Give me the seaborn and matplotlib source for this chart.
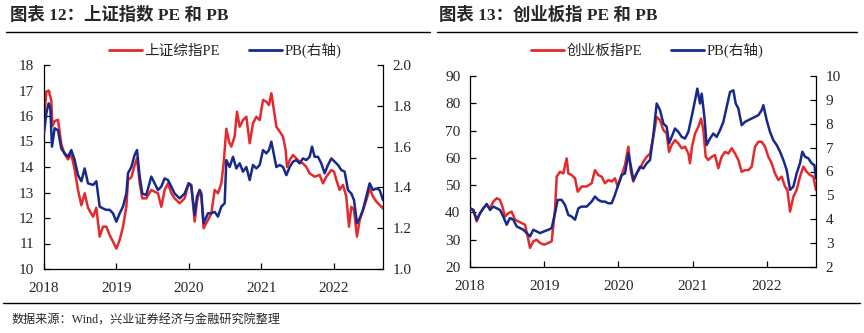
import matplotlib
matplotlib.use("Agg")
import matplotlib.pyplot as plt
import seaborn as sns
import numpy as np
from matplotlib.lines import Line2D

# ---------------- data (decimal years) ----------------
sh_pe_t = [2018.000, 2018.032, 2018.064, 2018.101, 2018.115, 2018.147, 2018.193, 2018.239, 2018.285,
           2018.331, 2018.377, 2018.423, 2018.469, 2018.515, 2018.561, 2018.607, 2018.676, 2018.722,
           2018.768, 2018.814, 2018.860, 2018.906, 2018.975, 2018.998, 2019.044, 2019.090, 2019.136,
           2019.159, 2019.205, 2019.251, 2019.283, 2019.320, 2019.356, 2019.411, 2019.480, 2019.526,
           2019.572, 2019.618, 2019.664, 2019.710, 2019.756, 2019.802, 2019.871, 2019.940, 2019.995,
           2020.032, 2020.078, 2020.110, 2020.147, 2020.170, 2020.202, 2020.262, 2020.308, 2020.354,
           2020.400, 2020.446, 2020.478, 2020.515, 2020.552, 2020.584, 2020.630, 2020.662, 2020.699,
           2020.745, 2020.791, 2020.837, 2020.883, 2020.929, 2020.975, 2021.021, 2021.067, 2021.103,
           2021.136, 2021.168, 2021.205, 2021.251, 2021.297, 2021.333, 2021.352, 2021.389, 2021.434,
           2021.480, 2021.526, 2021.572, 2021.618, 2021.664, 2021.733, 2021.802, 2021.848, 2021.894,
           2021.963, 2022.000, 2022.032, 2022.078, 2022.124, 2022.170, 2022.207, 2022.239, 2022.276,
           2022.317, 2022.354, 2022.400, 2022.446, 2022.492, 2022.538, 2022.584, 2022.630, 2022.676]
sh_pe = [15.84, 16.95, 17.00, 16.60, 15.60, 15.80, 15.85, 14.90, 14.50,
         14.30, 14.50, 13.90, 13.10, 12.50, 12.97, 12.40, 12.05, 12.40,
         11.27, 11.66, 11.66, 11.33, 10.94, 10.80, 11.14, 11.66, 12.45,
         13.50, 13.60, 14.08, 14.34, 13.36, 12.77, 12.77, 13.10, 13.03,
         12.97, 12.44, 13.10, 13.36, 12.97, 12.77, 12.58, 12.77, 13.36,
         13.30, 11.86, 12.64, 13.10, 12.84, 11.60, 11.92, 12.18, 13.10,
         12.97, 13.36, 14.14, 15.50, 14.99, 14.80, 15.20, 16.17, 15.58,
         15.84, 15.97, 14.93, 15.71, 15.97, 15.84, 16.63, 16.56, 16.43,
         16.89, 16.30, 15.58, 15.39, 15.19, 14.67, 14.00, 14.27, 14.47,
         14.34, 14.20, 14.14, 14.00, 13.75, 13.62, 13.69, 13.36, 13.62,
         13.88, 13.82, 13.50, 13.10, 13.30, 12.84, 11.66, 12.44, 12.31,
         11.27, 11.92, 12.31, 12.70, 13.16, 12.84, 12.64, 12.51, 12.38]

sh_pb_t = [2018.000, 2018.032, 2018.064, 2018.087, 2018.110, 2018.147, 2018.193, 2018.239, 2018.285,
           2018.331, 2018.377, 2018.423, 2018.469, 2018.515, 2018.561, 2018.607, 2018.676, 2018.722,
           2018.768, 2018.814, 2018.860, 2018.906, 2018.952, 2018.998, 2019.044, 2019.090, 2019.136,
           2019.159, 2019.205, 2019.251, 2019.283, 2019.320, 2019.356, 2019.411, 2019.480, 2019.526,
           2019.572, 2019.618, 2019.664, 2019.710, 2019.756, 2019.802, 2019.871, 2019.940, 2019.995,
           2020.032, 2020.078, 2020.110, 2020.147, 2020.170, 2020.202, 2020.262, 2020.308, 2020.354,
           2020.400, 2020.446, 2020.492, 2020.515, 2020.561, 2020.607, 2020.653, 2020.699, 2020.745,
           2020.791, 2020.837, 2020.883, 2020.929, 2020.975, 2021.021, 2021.067, 2021.103, 2021.136,
           2021.168, 2021.205, 2021.251, 2021.297, 2021.343, 2021.389, 2021.434, 2021.480, 2021.526,
           2021.572, 2021.618, 2021.664, 2021.697, 2021.733, 2021.779, 2021.825, 2021.871, 2021.917,
           2021.963, 2022.009, 2022.055, 2022.101, 2022.147, 2022.193, 2022.239, 2022.276, 2022.317,
           2022.354, 2022.400, 2022.446, 2022.492, 2022.538, 2022.584, 2022.630, 2022.676]
sh_pb = [1.665, 1.763, 1.812, 1.790, 1.600, 1.690, 1.680, 1.590, 1.567,
         1.550, 1.583, 1.534, 1.460, 1.430, 1.493, 1.420, 1.412, 1.430,
         1.306, 1.297, 1.290, 1.290, 1.273, 1.232, 1.273, 1.306, 1.370,
         1.470, 1.500, 1.560, 1.583, 1.453, 1.370, 1.363, 1.453, 1.420,
         1.387, 1.404, 1.444, 1.436, 1.404, 1.370, 1.346, 1.370, 1.420,
         1.404, 1.265, 1.355, 1.387, 1.370, 1.224, 1.273, 1.273, 1.280,
         1.257, 1.306, 1.322, 1.534, 1.500, 1.550, 1.493, 1.518, 1.477,
         1.500, 1.436, 1.510, 1.493, 1.510, 1.583, 1.567, 1.583, 1.624,
         1.567, 1.500, 1.510, 1.500, 1.460, 1.500, 1.526, 1.534, 1.518,
         1.542, 1.534, 1.550, 1.600, 1.550, 1.550, 1.518, 1.469, 1.510,
         1.542, 1.526, 1.510, 1.485, 1.477, 1.387, 1.370, 1.338, 1.224,
         1.248, 1.290, 1.355, 1.420, 1.387, 1.395, 1.387, 1.338]

cy_pe_t = [2018.000, 2018.045, 2018.090, 2018.135, 2018.180, 2018.225, 2018.270, 2018.315, 2018.360,
           2018.404, 2018.436, 2018.472, 2018.517, 2018.562, 2018.607, 2018.652, 2018.697, 2018.742,
           2018.787, 2018.809, 2018.854, 2018.899, 2018.944, 2018.998, 2019.056, 2019.101, 2019.146,
           2019.169, 2019.213, 2019.258, 2019.303, 2019.326, 2019.371, 2019.416, 2019.452, 2019.506,
           2019.573, 2019.640, 2019.685, 2019.730, 2019.775, 2019.820, 2019.865, 2019.910, 2019.955,
           2019.991, 2020.045, 2020.090, 2020.135, 2020.166, 2020.202, 2020.247, 2020.292, 2020.337,
           2020.382, 2020.427, 2020.472, 2020.517, 2020.562, 2020.607, 2020.652, 2020.683, 2020.719,
           2020.764, 2020.809, 2020.854, 2020.899, 2020.944, 2020.966, 2020.993, 2021.034, 2021.079,
           2021.115, 2021.146, 2021.178, 2021.213, 2021.258, 2021.303, 2021.348, 2021.393, 2021.438,
           2021.483, 2021.528, 2021.573, 2021.618, 2021.663, 2021.708, 2021.753, 2021.798, 2021.843,
           2021.888, 2021.933, 2021.978, 2022.022, 2022.067, 2022.112, 2022.157, 2022.202, 2022.247,
           2022.279, 2022.315, 2022.360, 2022.404, 2022.449, 2022.494, 2022.539, 2022.584, 2022.629,
           2022.665]
cy_pe = [41.5, 40.9, 36.7, 39.7, 41.5, 42.8, 41.5, 44.0, 45.2,
         44.6, 42.2, 38.5, 39.7, 40.3, 37.3, 36.7, 36.1, 35.5,
         30.0, 27.0, 29.4, 30.0, 28.8, 28.2, 28.8, 29.4, 40.9,
         53.1, 54.9, 54.3, 59.8, 54.3, 53.7, 52.5, 47.6, 49.5,
         49.5, 50.7, 55.5, 53.7, 53.1, 50.7, 51.9, 51.3, 52.5,
         49.5, 53.7, 57.4, 64.1, 55.5, 51.3, 54.3, 56.2, 58.6,
         60.4, 61.6, 67.7, 75.0, 73.8, 70.2, 68.9, 62.2, 64.7,
         66.5, 65.3, 63.5, 64.1, 61.6, 58.0, 64.1, 68.9, 71.4,
         74.4, 70.2, 60.4, 59.2, 60.4, 61.0, 56.2, 60.4, 62.2,
         61.6, 63.5, 61.6, 59.2, 54.9, 55.5, 55.5, 56.8, 64.1,
         65.9, 65.9, 64.1, 60.4, 58.0, 54.3, 51.9, 53.1, 49.5,
         48.2, 40.3, 45.8, 48.2, 53.1, 56.8, 54.9, 53.7, 53.1,
         48.2]

cy_pb_t = [2018.000, 2018.045, 2018.090, 2018.135, 2018.180, 2018.225, 2018.270, 2018.315, 2018.360,
           2018.404, 2018.449, 2018.494, 2018.539, 2018.584, 2018.629, 2018.674, 2018.719, 2018.764,
           2018.809, 2018.854, 2018.899, 2018.944, 2018.998, 2019.056, 2019.101, 2019.146, 2019.182,
           2019.236, 2019.281, 2019.326, 2019.371, 2019.416, 2019.461, 2019.506, 2019.573, 2019.640,
           2019.685, 2019.730, 2019.775, 2019.820, 2019.865, 2019.910, 2019.946, 2019.991, 2020.045,
           2020.090, 2020.135, 2020.166, 2020.202, 2020.247, 2020.292, 2020.337, 2020.382, 2020.427,
           2020.472, 2020.517, 2020.562, 2020.607, 2020.652, 2020.683, 2020.719, 2020.764, 2020.809,
           2020.854, 2020.899, 2020.944, 2020.993, 2021.034, 2021.065, 2021.101, 2021.124, 2021.160,
           2021.191, 2021.236, 2021.281, 2021.326, 2021.371, 2021.416, 2021.461, 2021.506, 2021.551,
           2021.582, 2021.618, 2021.663, 2021.708, 2021.753, 2021.798, 2021.843, 2021.888, 2021.933,
           2021.955, 2022.000, 2022.045, 2022.090, 2022.135, 2022.180, 2022.225, 2022.270, 2022.315,
           2022.360, 2022.404, 2022.449, 2022.481, 2022.517, 2022.562, 2022.607, 2022.643, 2022.665]
cy_pb = [4.46, 4.39, 3.98, 4.25, 4.46, 4.64, 4.39, 4.53, 4.46,
         4.39, 4.11, 3.77, 4.05, 3.98, 3.70, 3.63, 3.56, 3.42,
         3.28, 3.56, 3.49, 3.42, 3.49, 3.56, 3.63, 4.25, 4.81,
         4.81, 4.60, 4.18, 4.11, 3.98, 4.46, 4.53, 4.53, 4.74,
         4.95, 4.81, 4.74, 4.74, 4.67, 4.67, 4.95, 5.37, 5.85,
         5.92, 6.76, 6.27, 5.64, 5.92, 6.20, 6.13, 6.34, 6.48,
         7.52, 8.85, 8.57, 8.01, 7.87, 7.18, 7.45, 7.80, 7.66,
         7.45, 7.38, 7.66, 8.36, 8.98, 9.47, 8.85, 9.26, 8.29,
         7.11, 7.38, 7.59, 7.45, 7.73, 8.08, 8.71, 9.33, 9.40,
         8.85, 8.64, 7.94, 8.08, 8.15, 8.22, 8.29, 8.36, 8.57,
         8.78, 8.15, 7.66, 7.31, 7.11, 6.83, 6.48, 6.06, 5.23,
         5.37, 5.92, 6.34, 6.83, 6.62, 6.55, 6.34, 6.27, 5.71]

years = [2018, 2019, 2020, 2021, 2022]
left_title = "图表 12：上证指数 PE 和 PB"
right_title = "图表 13：创业板指 PE 和 PB"
left_pe_label = "上证综指PE"
right_pe_label = "创业板指PE"
pb_label = "PB(右轴)"
source = "数据来源：Wind，兴业证券经济与金融研究院整理"

# ---------------- style ----------------
sns.set_theme(style="white")
plt.rcParams['font.family'] = ['Liberation Serif', 'Noto Sans CJK SC']
plt.rcParams['axes.unicode_minus'] = False

RED = "#E5292C"
BLUE = "#17298A"

fig = plt.figure(figsize=(8.64, 3.33), dpi=100)

def setup(ax, ax2, ylim, yticks, ylim2, yticks2, yfmt2, xmax):
    ax.set_xlim(2018, xmax)
    ax.set_ylim(*ylim)
    ax.set_yticks(yticks)
    ax2.set_ylim(*ylim2)
    ax2.set_yticks(yticks2)
    ax2.set_yticklabels([yfmt2.format(v) for v in yticks2])
    ax.set_xticks(years)
    ax.set_xticklabels([str(y) for y in years])
    for a in (ax, ax2):
        a.set_xlabel("")
        a.set_ylabel("")
        a.spines['top'].set_visible(False)
        for s in ('left', 'right', 'bottom'):
            a.spines[s].set_color('black')
            a.spines[s].set_linewidth(0.9)
        a.grid(False)
    ax.spines['right'].set_visible(False)
    ax2.spines['left'].set_visible(False)
    ax2.spines['bottom'].set_visible(False)
    ax.tick_params(axis='y', direction='in', length=4, width=0.9, color='black',
                   labelsize=11, pad=7, left=True, right=False)
    ax.tick_params(axis='x', direction='in', length=4, width=0.9, color='black',
                   labelsize=11, pad=9, bottom=True)
    ax2.tick_params(axis='y', direction='in', length=4, width=0.9, color='black',
                    labelsize=11, pad=7, right=True, left=False)

def panel(rect, pe_t, pe, pb_t, pb, ylim, yticks, ylim2, yticks2, yfmt2, xmax):
    ax = fig.add_axes(rect)
    ax.set_facecolor('white')
    ax2 = ax.twinx()
    sns.lineplot(x=pe_t, y=pe, ax=ax, color=RED, linewidth=1.8, legend=False)
    sns.lineplot(x=pb_t, y=pb, ax=ax2, color=BLUE, linewidth=1.8, legend=False)
    setup(ax, ax2, ylim, yticks, ylim2, yticks2, yfmt2, xmax)
    return ax, ax2

axL, axL2 = panel([44/864, 1-269/333, (383-44)/864, (269-65)/333],
                  sh_pe_t, sh_pe, sh_pb_t, sh_pb,
                  (10, 18), list(range(10, 19)), (1.0, 2.0),
                  [1.0, 1.2, 1.4, 1.6, 1.8, 2.0], "{:.1f}", 2022.676)
axR, axR2 = panel([470/864, 1-267/333, (816-470)/864, (267-76)/333],
                  cy_pe_t, cy_pe, cy_pb_t, cy_pb,
                  (20, 90), list(range(20, 91, 10)), (2, 10),
                  list(range(2, 11)), "{:d}", 2022.665)

# legends
def add_legend(xc, pe_label):
    h = [Line2D([], [], color=RED, lw=2), Line2D([], [], color=BLUE, lw=2)]
    fig.legend(h, [pe_label, pb_label], loc='center', bbox_to_anchor=(xc, 1-50.7/333),
               ncol=2, frameon=False, fontsize=10.5, handlelength=2.3, handletextpad=0.15,
               columnspacing=2.0, borderpad=0)

add_legend(225/864, left_pe_label)
add_legend(647/864, right_pe_label)

# titles and rules
fig.text(10/864, 1-15/333, left_title, fontsize=12.5, fontweight='bold', va='center', ha='left')
fig.text(439/864, 1-15/333, right_title, fontsize=12.5, fontweight='bold', va='center', ha='left')
fig.add_artist(Line2D([6/864, 430/864], [1-31.7/333]*2, color='black', lw=1.0))
fig.add_artist(Line2D([437/864, 857/864], [1-31.7/333]*2, color='black', lw=1.0))
fig.add_artist(Line2D([3/864, 860/864], [1-303/333]*2, color='black', lw=1.0))
fig.text(12/864, 1-321/333, source, fontsize=8.7, va='center', ha='left')

fig.savefig("out.png", dpi=100, facecolor='white')
